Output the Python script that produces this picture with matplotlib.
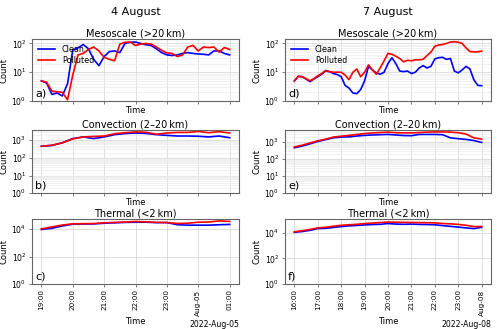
import numpy as np
import pandas as pd
import matplotlib
matplotlib.use("Agg")
import matplotlib.pyplot as plt
import matplotlib.dates as mdates
from matplotlib.ticker import LogLocator, NullFormatter

# ---------------- data ----------------
# 4 August (19:00 -> 01:00), mesoscale at 10-min steps
t_aug4_meso = pd.date_range("2022-08-04 19:00", periods=37, freq="10min")
clean_a = [5, 4.2, 1.7, 1.9, 1.5, 4, 60, 70, 92, 65, 28, 17, 35, 52, 55, 48, 100,
           110, 112, 100, 90, 85, 65, 48, 40, 38, 40, 45, 48, 45, 43, 42, 40, 55,
           55, 45, 40]
poll_a = [5, 4.5, 2.2, 2.1, 2.0, 1.1, 8, 40, 45, 62, 75, 55, 33, 28, 25, 95, 110,
          112, 85, 95, 100, 95, 75, 58, 47, 45, 35, 40, 75, 85, 55, 75, 72, 75,
          50, 72, 62]
# 4 August convection / thermal at 20-min steps
t_aug4 = pd.date_range("2022-08-04 19:00", periods=19, freq="20min")
clean_b = [460, 510, 720, 1250, 1550, 1250, 1550, 2100, 2400, 2600, 2450, 2100,
           1900, 1750, 1750, 1700, 1550, 1750, 1400]
poll_b = [460, 520, 720, 1200, 1550, 1650, 1750, 2350, 2700, 3000, 2850, 2200,
          2600, 2800, 2800, 3200, 2700, 3100, 2600]
clean_c = [9500, 11500, 17000, 23000, 24000, 24000, 27000, 29000, 31000, 32000,
           32000, 30000, 30000, 21000, 19500, 19500, 19500, 21000, 22000]
poll_c = [10500, 14500, 20000, 24500, 25000, 25500, 29000, 31000, 33000, 36000,
          34000, 31000, 30500, 26000, 27000, 32000, 33000, 40000, 36500]

# 7 August (16:00 -> 00:00), mesoscale at 10-min steps
t_aug7_meso = pd.date_range("2022-08-07 16:00", periods=49, freq="10min")
clean_d = [5, 7.2, 7, 5.8, 4.7, 5.8, 7, 8.5, 11, 10.5, 9, 8.3, 7, 3.5, 2.8, 1.9,
           1.8, 2.5, 5, 16, 12, 9.5, 8.5, 10, 20, 32, 20, 11, 10.5, 11, 9, 10, 14,
           17, 14, 16, 29, 32, 33, 28, 30, 11, 9.5, 12, 16, 13, 5.5, 3.5, 3.4]
poll_d = [5, 7.2, 7, 6, 5, 6, 7.5, 9, 11.5, 10.5, 10, 10, 10, 8, 5.5, 10, 13, 7,
          10, 18, 12, 8.5, 14, 25, 45, 42, 36, 30, 23, 26, 25, 27, 27, 28, 38, 50,
          80, 88, 92, 100, 112, 115, 110, 100, 70, 52, 51, 51, 54]
# 7 August convection / thermal at 20-min steps
t_aug7 = pd.date_range("2022-08-07 16:00", periods=25, freq="20min")
clean_e = [470, 590, 800, 1100, 1400, 1800, 2000, 2050, 2300, 2500, 2650, 2750,
           2850, 2650, 2450, 2400, 2850, 2850, 2850, 2750, 1800, 1600, 1450, 1250,
           960]
poll_e = [520, 660, 900, 1200, 1500, 2000, 2250, 2500, 2850, 3200, 3500, 3700,
          3900, 3600, 3500, 3500, 3700, 3900, 4000, 4000, 3900, 3600, 3000, 1800,
          1500]
clean_f = [11300, 13000, 16000, 22000, 23000, 27000, 32000, 36000, 39000, 43000,
           46000, 48000, 55000, 50000, 48000, 50000, 47000, 46000, 44000, 38000,
           33000, 29000, 25000, 22000, 28000]
poll_f = [12500, 15000, 19000, 25000, 28000, 34000, 40000, 44000, 48000, 55000,
          60000, 66000, 72000, 70000, 68000, 67000, 65000, 64000, 62000, 55000,
          52000, 47000, 40000, 32000, 32000]

titles = ["Mesoscale (>20\u2009km)", "Convection (2\u201320\u2009km)", "Thermal (<2\u2009km)"]
col_titles = ["4 August", "7 August"]
letters = [["a)", "b)", "c)"], ["d)", "e)", "f)"]]

# ---------------- plot ----------------
plt.rcParams["font.family"] = ["DejaVu Sans"]
fig = plt.figure(figsize=(5.0, 3.29), dpi=100)

col_x = [0.064, 0.570]
col_w = [0.414, 0.412]
row_b = [0.693, 0.413, 0.137]
row_h = [0.188, 0.191, 0.198]
ytops = [[141, 3.7e3, 5.7e4], [141, 5.0e3, 1.3e5]]
yticks = [[1, 10, 100], [1, 10, 100, 1000], [1, 100, 10000]]

series = [
    [(t_aug4_meso, clean_a, poll_a), (t_aug4, clean_b, poll_b), (t_aug4, clean_c, poll_c)],
    [(t_aug7_meso, clean_d, poll_d), (t_aug7, clean_e, poll_e), (t_aug7, clean_f, poll_f)],
]
xlims = [(pd.Timestamp("2022-08-04 19:00"), pd.Timestamp("2022-08-05 01:00")),
         (pd.Timestamp("2022-08-07 16:00"), pd.Timestamp("2022-08-08 00:00"))]

for c in range(2):
    for r in range(3):
        ax = fig.add_axes([col_x[c], row_b[r], col_w[c], row_h[r]])
        t, cl, po = series[c][r]
        ax.plot(t, cl, color="blue", lw=1.2, label="Clean")
        ax.plot(t, po, color="red", lw=1.2, label="Polluted")
        ax.set_yscale("log")
        ax.set_ylim(1, ytops[c][r])
        ax.set_yticks(yticks[r])
        ax.yaxis.set_minor_locator(LogLocator(base=10, subs=np.arange(2, 10)))
        ax.yaxis.set_minor_formatter(NullFormatter())
        span = xlims[c][1] - xlims[c][0]
        ax.set_xlim(xlims[c][0] - span * 0.05, xlims[c][1] + span * 0.05)
        ax.xaxis.set_major_locator(mdates.HourLocator())
        ax.xaxis.set_major_formatter(mdates.ConciseDateFormatter(ax.xaxis.get_major_locator()))
        ax.grid(True, which="major", color="#d9d9d9", lw=0.6)
        ax.grid(True, which="minor", axis="y", color="#ececec", lw=0.5)
        ax.set_axisbelow(True)
        for s in ax.spines.values():
            s.set_color("#666666")
            s.set_linewidth(0.8)
        ax.tick_params(axis="both", which="major", labelsize=5.6, length=2.5,
                       width=0.6, color="#666666", pad=1.5)
        ax.tick_params(axis="x", which="major", labelsize=5.2)
        ax.tick_params(axis="y", which="minor", length=0)
        ax.set_ylabel("Count", fontsize=6, labelpad=2)
        ax.set_xlabel("Time", fontsize=6, labelpad=1)
        ax.set_title(titles[r], fontsize=7, pad=2)
        ax.text(0.015, 0.04, letters[c][r], transform=ax.transAxes,
                fontsize=8, ha="left", va="bottom")
        if r < 2:
            ax.tick_params(axis="x", labelbottom=False)
            ax.xaxis.get_offset_text().set_visible(False)
        else:
            for lab in ax.get_xticklabels():
                lab.set_rotation(90)
            ax.xaxis.get_offset_text().set_fontsize(5.6)
        if r == 0:
            ax.legend(loc="upper left", fontsize=5.8, frameon=False,
                      handlelength=2.2, borderaxespad=0.3, labelspacing=0.3)
    fig.text(col_x[c] + col_w[c] / 2, 0.965, col_titles[c], ha="center",
             va="center", fontsize=8)

fig.savefig("out.png", dpi=100)
